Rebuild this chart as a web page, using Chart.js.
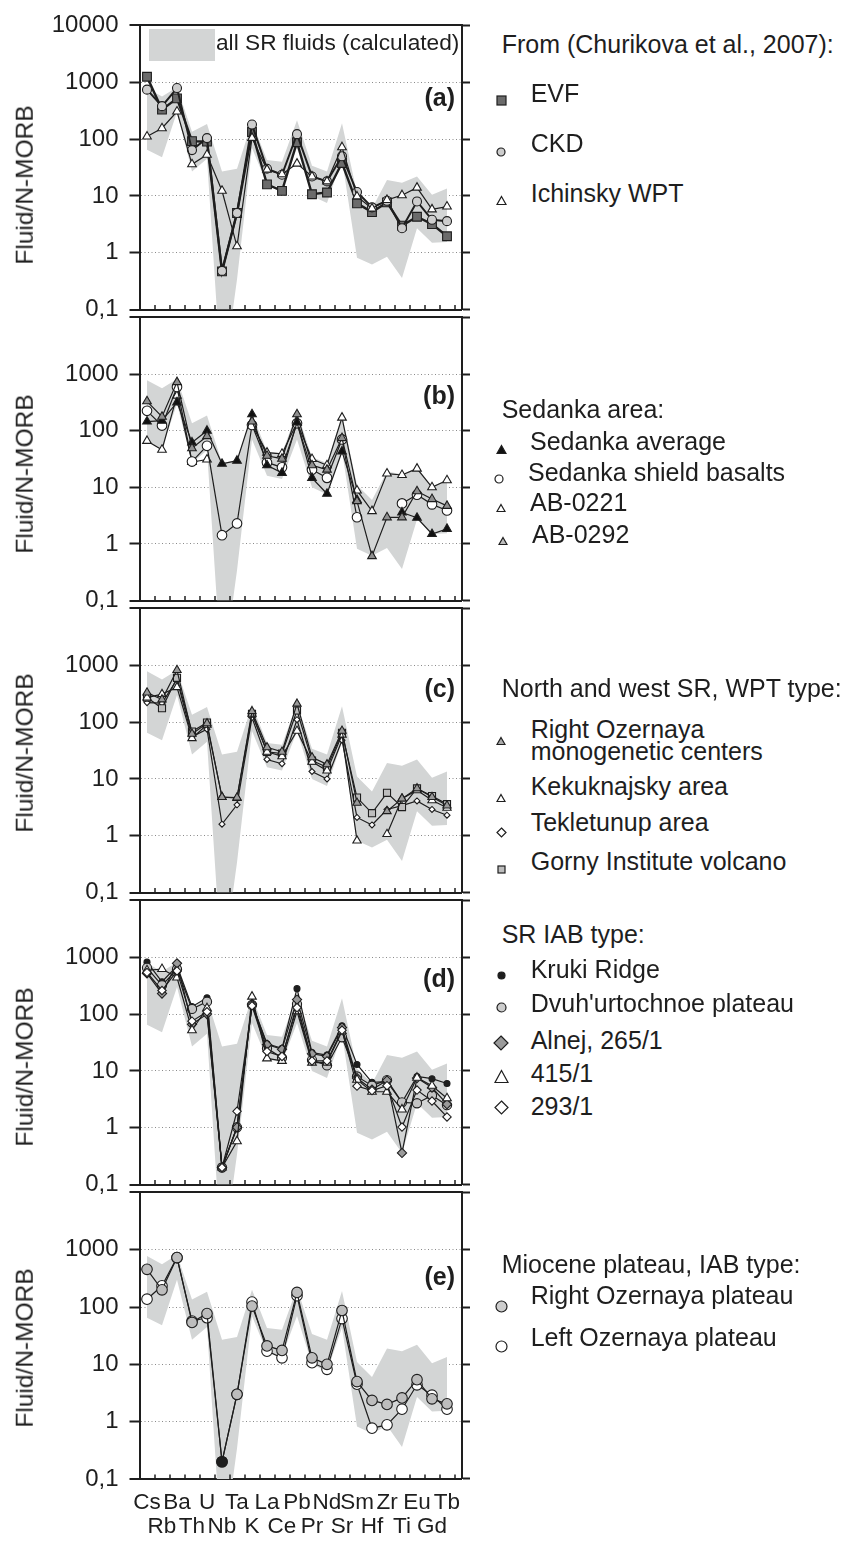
<!DOCTYPE html>
<html>
<head>
<meta charset="utf-8">
<script src="https://cdn.jsdelivr.net/npm/chart.js@4.4.1/dist/chart.umd.min.js"></script>
<style>
body { margin: 0; background: #fff; }
#page { position: relative; width: 858px; height: 1541px; overflow: hidden; font-family: "Liberation Sans", Arial, Helvetica, sans-serif; color: #1e1e1e; }
.panel { position: absolute; left: 0; }
.txt { position: absolute; font-size: 25px; line-height: 22px; white-space: nowrap; }
.ytitle { position: absolute; left: 25px; font-size: 24.5px; line-height: 24.5px; white-space: nowrap; transform: translate(-50%, -50%) rotate(-90deg); }
.letter { position: absolute; left: 395px; width: 60px; text-align: right; font-size: 25px; line-height: 22px; font-weight: bold; }
.mk { position: absolute; }
</style>
</head>
<body>
<div id="page"></div>
<script>
// element order along the x axis
var elements = ['Cs', 'Rb', 'Ba', 'Th', 'U', 'Nb', 'Ta', 'K', 'La', 'Ce', 'Pb', 'Pr', 'Nd', 'Sr', 'Sm', 'Hf', 'Zr', 'Ti', 'Eu', 'Gd', 'Tb'];

var yTickValues = [0.1, 1, 10, 100, 1000, 10000];
var yTickLabels = ['0,1', '1', '10', '100', '1000', '10000'];

// grey field: all SR fluids (calculated)
var fluidUpper = [780, 560, 820, 135, 185, 27, 30, 200, 43, 40, 215, 34, 27, 190, 11, 6, 19, 17, 22, 10.5, 13.5];
var fluidLower = [65, 48, 300, 27, 45, 0.004, 0.34, 70, 16, 14, 70, 10, 7.5, 44, 0.82, 0.62, 0.85, 0.36, 2.7, 1.5, 1.55];

// (a) from Churikova et al., 2007
var evf = [1250, 330, 520, 92, 90, 0.47, 5, 133, 16, 12.3, 88, 10.7, 11.5, 38, 7.4, 5.2, 7.7, 3.0, 4.3, 3.2, 1.95];
var ckd = [740, 380, 790, 64, 104, 0.48, 5, 180, 30, 23.6, 122, 22, 18, 50, 11.7, 6.3, 8.2, 2.7, 8, 3.8, 3.6];
var ichinsky = [111, 155, 305, 36, 53, 12.3, 1.3, 105, 29, 24, 37, 22, 18, 72, 9.8, 6, 8.5, 10.3, 14, 5.8, 6.5];

// (b) Sedanka area
var sedankaAverage = [145, 150, 316, 62, 100, 26, 29.5, 195, 24.5, 18, 140, 14.7, 7.7, 43, 6, null, null, 3.6, 2.9, 1.5, 1.85];
var sedankaShield = [224, 123, 590, 28.5, 54, 1.43, 2.3, 126, 27.5, 22.5, 135, 20.5, 14.7, 70, 2.96, null, null, 5.2, 7.4, 5, 3.9];
var ab0221 = [66, 46, 415, 28, 31, null, null, 126, 41, 39, 138, 31.6, 24.5, 170, 8.8, 3.8, 17.5, 16.5, 21.4, 10, 13.3];
var ab0292 = [330, 176, 720, 49, 80, null, null, 145, 36, 32, 195, 24.5, 20.5, 74, 5.7, 0.61, 2.95, 2.95, 8.5, 6.2, 4.7];

// (c) North and west SR, WPT type
var rightOzMono = [330, 250, 820, 62, 95, 4.8, 4.7, 155, 36, 30, 210, 24, 18, 70, 3.8, null, 2.7, 4.5, 6.8, 4.8, 3.4];
var kekuknajsky = [270, 310, 410, 52, 90, 4.8, 4.6, 140, 30, 25, 70, 20, 14, 60, 0.82, null, 1.07, 4.5, 6.3, 4.2, 3.1];
var tekletunup = [220, 215, 560, 55, 75, 1.6, 3.5, 120, 22, 18.5, 110, 13.5, 10, 48, 2.1, 1.55, 2.9, 3.4, 4.1, 2.9, 2.3];
var gornyInstitute = [270, 175, 600, 68, 98, null, null, 140, 30, 28, 160, 21, 16, 65, 4.7, 2.5, 5.7, 3.2, 6.8, 5, 3.6];

// (d) SR IAB type
var kruki = [820, 370, 700, 135, 193, 0.2, 1.02, 150, 30, 25, 280, 21, 19, 62, 13, 6.3, 6.5, 2.8, 8, 7.3, 6];
var dvuhurtochnoe = [650, 320, 615, 123, 165, 0.2, 1.02, 145, 25, 17, 150, 15.5, 12.5, 39, 8, 5.5, 6.9, 2.8, 2.7, 3.7, 2.5];
var alnej265 = [520, 230, 780, 66, 100, 0.2, 1.02, 150, 29, 24, 180, 20, 18, 58, 7.5, 4.7, 6.8, 0.36, 7.5, 5.1, 2.6];
var s415 = [590, 620, 440, 52, 127, 0.2, 0.58, 203, 16.6, 15, 112, 14, 14, 50, 7, 4.3, 4.3, 2.1, 7.6, 5.5, 3.3];
var s293 = [540, 260, 575, 75, 110, 0.2, 1.95, 140, 22, 18, 130, 15, 15, 52, 5.4, 4.5, 5.5, 1.03, 4.6, 2.95, 1.55];

// (e) Miocene plateau, IAB type
var rightOzPlateau = [455, 200, 730, 54, 77, 0.2, 3.0, 104, 21, 17.5, 180, 13, 10, 87, 5, 2.35, 2.0, 2.6, 5.4, 2.5, 2.05];
var leftOzPlateau = [137, 235, 730, 57, 65, 0.2, 3.0, 122, 17, 13, 158, 10.7, 8.2, 63, 4.5, 0.77, 0.88, 1.65, 4.4, 2.9, 1.65];

var FONT = '"Liberation Sans", Arial, Helvetica, sans-serif';
var INK = '#1e1e1e';
var FIELD = '#d3d5d5';

var PANEL_TOPS = [20.5, 312.2, 603.9, 895.6, 1187.3];
var PANEL_H = 291.7;
var PAGE_H = 1541;

var panels = [
	{ letter: '(a)', letterY: 97, titleY: 185, series: [
		{ data: evf, shape: 'rect', radius: 6.2, fill: '#6b6b6b', line: 2.4, order: 3 },
		{ data: ckd, shape: 'circle', radius: 4.5, fill: '#cdcdcd', line: 2, order: 2 },
		{ data: ichinsky, shape: 'triangle', radius: 5, fill: '#ffffff', line: 1.2, order: 1 }
	]},
	{ letter: '(b)', letterY: 394.7, titleY: 474, series: [
		{ data: ab0292, shape: 'triangle', radius: 5, fill: '#8f8f8f', line: 1.2, order: 1 },
		{ data: sedankaAverage, shape: 'triangle', radius: 5, fill: '#111111', line: 1.2, order: 2 },
		{ data: sedankaShield, shape: 'circle', radius: 4.8, fill: '#ffffff', line: 1.2, order: 3 },
		{ data: ab0221, shape: 'triangle', radius: 5, fill: '#ffffff', line: 1.2, order: 4 }
	]},
	{ letter: '(c)', letterY: 688, titleY: 752.5, series: [
		{ data: rightOzMono, shape: 'triangle', radius: 4.8, fill: '#9a9a9a', line: 1.2, order: 1 },
		{ data: kekuknajsky, shape: 'triangle', radius: 4.8, fill: '#ffffff', line: 1.2, order: 2 },
		{ data: gornyInstitute, shape: 'rect', radius: 5, fill: '#bdbdbd', line: 1.2, order: 3 },
		{ data: tekletunup, shape: 'rectRot', radius: 3, fill: '#ffffff', line: 1.2, order: 4 }
	]},
	{ letter: '(d)', letterY: 978, titleY: 1066.7, series: [
		{ data: s293, shape: 'rectRot', radius: 4.2, fill: '#ffffff', line: 1.2, order: 1 },
		{ data: s415, shape: 'triangle', radius: 5, fill: '#ffffff', line: 1.2, order: 2 },
		{ data: alnej265, shape: 'rectRot', radius: 4.6, fill: '#9a9a9a', line: 1.2, order: 3 },
		{ data: dvuhurtochnoe, shape: 'circle', radius: 4.6, fill: '#c4c4c4', line: 1.2, order: 4 },
		{ data: kruki, shape: 'circle', radius: 3, fill: '#1e1e1e', line: 1.2, order: 5 }
	]},
	{ letter: '(e)', letterY: 1275.5, titleY: 1347.5, series: [
		{ data: rightOzPlateau, shape: 'circle', radius: 5.3, fill: '#bdbdbd', line: 1.2, order: 1, darkIndex: 5 },
		{ data: leftOzPlateau, shape: 'circle', radius: 5.3, fill: '#ffffff', line: 1.2, order: 2 }
	]}
];

var legendBlocks = [
	{ head: 'From (Churikova et al., 2007):', y: 43.2, items: [
		{ label: 'EVF', y: 92.3, my: 97, shape: 'rect', size: 11, fill: '#6b6b6b' },
		{ label: 'CKD', y: 142.8, my: 148, shape: 'circle', size: 10, fill: '#cdcdcd' },
		{ label: 'Ichinsky WPT', y: 193, my: 197, shape: 'triangle', size: 11, fill: '#ffffff' }
	]},
	{ head: 'Sedanka area:', y: 408.3, items: [
		{ label: 'Sedanka average', y: 440.8, my: 446.7, shape: 'triangle', size: 11, fill: '#111111', x: 530 },
		{ label: 'Sedanka shield basalts', y: 472, my: 475.3, shape: 'circle', size: 10, fill: '#ffffff', x: 528, mx: 499 },
		{ label: 'AB-0221', y: 502, my: 504, shape: 'triangle', size: 10, fill: '#ffffff', x: 530 },
		{ label: 'AB-0292', y: 533.3, my: 536.7, shape: 'triangle', size: 10, fill: '#bdbdbd', x: 532, mx: 502.5 }
	]},
	{ head: 'North and west SR, WPT type:', y: 687.5, items: [
		{ label: 'Right Ozernaya<br>monogenetic centers', y: 728.7, my: 736.7, shape: 'triangle', size: 10, fill: '#aaaaaa' },
		{ label: 'Kekuknajsky area', y: 785.3, my: 794, shape: 'triangle', size: 10, fill: '#ffffff' },
		{ label: 'Tekletunup area', y: 822, my: 829.5, shape: 'rectRot', size: 11, fill: '#ffffff' },
		{ label: 'Gorny Institute volcano', y: 860.8, my: 864, shape: 'rect', size: 9, fill: '#bdbdbd' }
	]},
	{ head: 'SR IAB type:', y: 933.3, items: [
		{ label: 'Kruki Ridge', y: 968.3, my: 970.5, shape: 'circle', size: 9, fill: '#1e1e1e' },
		{ label: 'Dvuh\'urtochnoe plateau', y: 1002.2, my: 1004, shape: 'circle', size: 11, fill: '#cdcdcd' },
		{ label: 'Alnej, 265/1', y: 1039.5, my: 1042.8, shape: 'rectRot', size: 16, fill: '#9a9a9a' },
		{ label: '415/1', y: 1073, my: 1076.3, shape: 'triangle', size: 15, fill: '#ffffff' },
		{ label: '293/1', y: 1105.5, my: 1107, shape: 'rectRot', size: 15, fill: '#ffffff' }
	]},
	{ head: 'Miocene plateau, IAB type:', y: 1263.7, items: [
		{ label: 'Right Ozernaya plateau', y: 1294.2, my: 1305, shape: 'circle', size: 13, fill: '#cdcdcd' },
		{ label: 'Left Ozernaya plateau', y: 1337, my: 1345.8, shape: 'circle', size: 13, fill: '#ffffff' }
	]}
];

Chart.defaults.font.family = FONT;
Chart.defaults.color = INK;

var page = document.getElementById('page');

function isEdge(c) {
	return !!c.tick && (c.tick.value <= 0.1 || c.tick.value >= 10000);
}

function setYTicks(scale) {
	scale.ticks = yTickValues.map(function (v) { return { value: v }; });
}

// short ticks pointing up from the bottom line, between the elements
var innerTicks = {
	id: 'innerTicks',
	afterDraw: function (chart) {
		var ctx = chart.ctx;
		var area = chart.chartArea;
		var x = chart.scales.x;
		ctx.save();
		ctx.strokeStyle = INK;
		ctx.lineWidth = 1.5;
		for (var i = 0; i < elements.length; i++) {
			var px = Math.round(x.getPixelForValue(i + 0.5));
			ctx.beginPath();
			ctx.moveTo(px, area.bottom);
			ctx.lineTo(px, area.bottom - 4.5);
			ctx.stroke();
		}
		ctx.restore();
	}
};

function buildDatasets(panel) {
	var sets = panel.series.map(function (s) {
		return {
			data: s.data.map(function (v, i) { return { x: i, y: v }; }),
			borderColor: INK,
			borderWidth: s.line,
			pointStyle: s.shape,
			pointRadius: s.radius,
			pointBackgroundColor: function (c) {
				return c.dataIndex === s.darkIndex ? INK : s.fill;
			},
			pointBorderColor: INK,
			pointBorderWidth: 1.1,
			tension: 0,
			spanGaps: false,
			order: s.order
		};
	});
	// grey field, drawn under all the lines
	sets.push({
		data: fluidUpper.map(function (v, i) { return { x: i, y: v }; }),
		borderWidth: 0, pointRadius: 0, backgroundColor: FIELD, fill: '+1', order: 20
	});
	sets.push({
		data: fluidLower.map(function (v, i) { return { x: i, y: v }; }),
		borderWidth: 0, pointRadius: 0, fill: false, order: 21
	});
	return sets;
}

function crearPanel(panel, index) {
	var isLast = index === panels.length - 1;
	var top = PANEL_TOPS[index];
	var canvasTop = Math.floor(top) - 20;
	var padTop = top - canvasTop;
	var height = isLast ? PAGE_H - canvasTop : Math.ceil(padTop + PANEL_H + 22);
	var padBottom = isLast ? 0 : height - padTop - PANEL_H;
	var xHeight = isLast ? height - padTop - PANEL_H : 0;

	var box = document.createElement('div');
	box.className = 'panel';
	box.style.top = canvasTop + 'px';
	var canvas = document.createElement('canvas');
	canvas.width = 480;
	canvas.height = height;
	box.appendChild(canvas);
	page.appendChild(box);

	new Chart(canvas.getContext('2d'), {
		type: 'line',
		data: { datasets: buildDatasets(panel) },
		options: {
			responsive: false,
			animation: false,
			events: [],
			layout: { padding: { top: padTop, bottom: padBottom, left: 0, right: 0 } },
			plugins: { legend: { display: false }, tooltip: { enabled: false } },
			scales: {
				x: {
					type: 'linear', min: -0.5, max: 21, display: isLast,
					afterBuildTicks: function (scale) {
						scale.ticks = elements.map(function (e, i) { return { value: i }; });
					},
					afterFit: function (scale) { scale.height = xHeight; },
					ticks: {
						autoSkip: false, maxRotation: 0, minRotation: 0, padding: 12,
						font: { size: 22.5, lineHeight: 1.067 }, color: INK,
						callback: function (v, i) {
							return i % 2 === 0 ? [elements[i], ''] : ['', elements[i]];
						}
					},
					grid: { display: false, drawTicks: false },
					border: { display: false }
				},
				y: {
					type: 'logarithmic', position: 'left', min: 0.1, max: 10000,
					afterBuildTicks: setYTicks,
					afterFit: function (scale) { scale.width = 139.5; },
					ticks: {
						font: { size: 24 }, color: INK, padding: 11, autoSkip: false,
						callback: function (v, i) {
							if (i === yTickValues.length - 1 && index > 0) return '';
							return yTickLabels[i];
						}
					},
					grid: {
						drawTicks: true, tickLength: 10, tickWidth: 2, tickColor: INK,
						color: function (c) { return isEdge(c) ? INK : '#8a8a8a'; },
						lineWidth: function (c) { return isEdge(c) ? 2 : 1; }
					},
					border: {
						display: true, width: 2, color: INK,
						dash: function (c) { return c.tick && !isEdge(c) ? [1, 2.5] : []; }
					}
				},
				y2: {
					type: 'logarithmic', position: 'right', min: 0.1, max: 10000,
					afterBuildTicks: setYTicks,
					afterFit: function (scale) { scale.width = 18; },
					ticks: { display: false },
					grid: { drawOnChartArea: false, drawTicks: true, tickLength: 8, tickWidth: 2, tickColor: INK },
					border: { display: true, width: 2, color: INK }
				}
			}
		},
		plugins: [innerTicks]
	});

	addText('ytitle', 'Fluid/N-MORB', null, panel.titleY);
	addText('letter', panel.letter, null, panel.letterY - 10.7);
}

function addText(cls, html, x, y) {
	var el = document.createElement('div');
	el.className = cls;
	el.innerHTML = html;
	if (x !== null) el.style.left = x + 'px';
	el.style.top = y + 'px';
	page.appendChild(el);
	return el;
}

function markerSvg(shape, s, fill) {
	var h = s / 2;
	var inner;
	if (shape === 'rect') {
		inner = '<rect x="1" y="1" width="' + (s - 2) + '" height="' + (s - 2) + '"/>';
	} else if (shape === 'circle') {
		inner = '<circle cx="' + h + '" cy="' + h + '" r="' + (h - 1) + '"/>';
	} else if (shape === 'triangle') {
		inner = '<polygon points="' + h + ',1.5 ' + (s - 1) + ',' + (s - 1.5) + ' 1,' + (s - 1.5) + '"/>';
	} else {
		inner = '<polygon points="' + h + ',1 ' + (s - 1) + ',' + h + ' ' + h + ',' + (s - 1) + ' 1,' + h + '"/>';
	}
	return '<svg width="' + s + '" height="' + s + '" xmlns="http://www.w3.org/2000/svg">' +
		'<g fill="' + fill + '" stroke="' + INK + '" stroke-width="1.2">' + inner + '</g></svg>';
}

function crearLeyenda() {
	legendBlocks.forEach(function (block) {
		addText('txt', block.head, 501.7, block.y - 10.7);
		block.items.forEach(function (item) {
			addText('txt', item.label, item.x || 530.7, item.y - 10.7);
			var mk = document.createElement('div');
			mk.className = 'mk';
			var mx = item.mx || 501;
			mk.style.left = (mx - item.size / 2) + 'px';
			mk.style.top = (item.my - item.size / 2) + 'px';
			mk.innerHTML = markerSvg(item.shape, item.size, item.fill);
			page.appendChild(mk);
		});
	});

	// key for the grey field inside panel (a)
	var swatch = document.createElement('div');
	swatch.style.cssText = 'position:absolute;left:149px;top:29.3px;width:66px;height:31.7px;background:' + FIELD + ';';
	page.appendChild(swatch);
	var key = addText('txt', 'all SR fluids (calculated)', 216, 42 - 10.7);
	key.style.fontSize = '22.7px';
}

panels.forEach(crearPanel);
crearLeyenda();
</script>
</body>
</html>
